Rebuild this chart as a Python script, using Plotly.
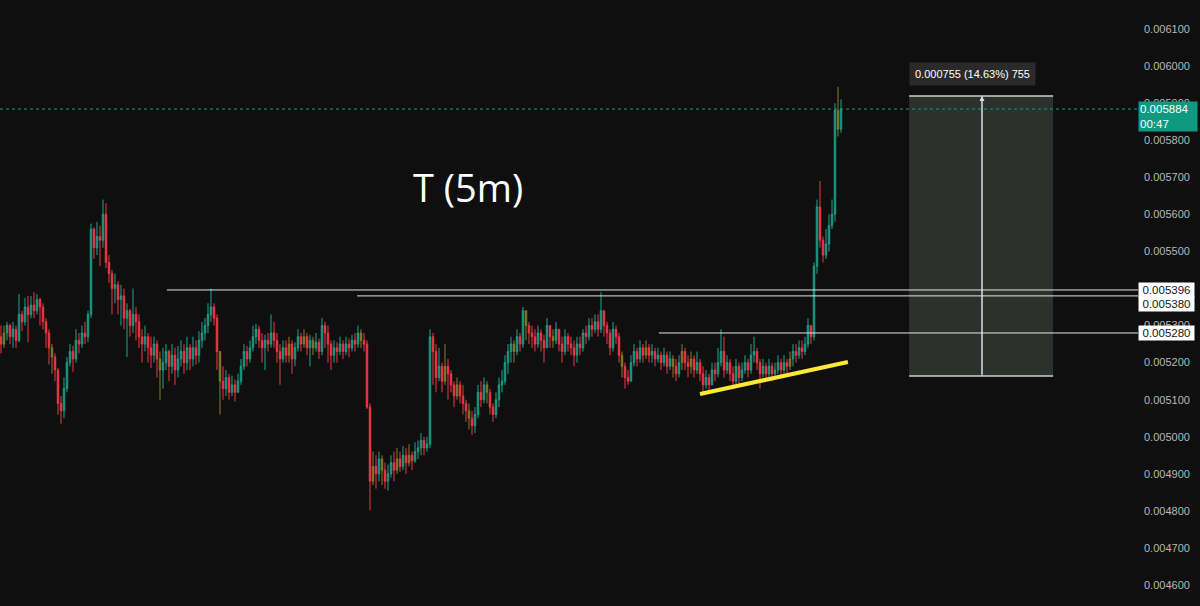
import plotly.graph_objects as go

# ---- data (prices in units of 1e-6) ----
first_open = 5270
close_u = [
 5250,5280,5300,5270,5290,5260,5330,5310,5350,5330,
 5355,5340,5370,5350,5310,5280,5240,5215,5180,5090,
 5070,5130,5200,5230,5210,5260,5250,5280,5270,5330,
 5560,5510,5540,5530,5600,5470,5440,5400,5410,5370,
 5380,5320,5340,5300,5330,5310,5270,5250,5270,5240,
 5220,5250,5210,5180,5200,5230,5190,5220,5180,5210,
 5230,5200,5240,5210,5240,5220,5260,5280,5300,5330,
 5350,5320,5230,5150,5130,5160,5120,5140,5120,5150,
 5190,5230,5210,5240,5270,5290,5260,5240,5260,5250,
 5280,5260,5230,5210,5240,5220,5250,5210,5240,5270,
 5250,5270,5240,5260,5240,5255,5230,5300,5280,5250,
 5220,5240,5230,5250,5230,5250,5240,5260,5250,5280,
 5260,5250,5080,4880,4920,4900,4940,4910,4880,4900,
 4930,4910,4940,4920,4950,4930,4950,4935,4960,4970,
 4990,4970,4980,5270,5230,5160,5190,5150,5190,5170,
 5140,5110,5140,5110,5090,5070,5050,5030,5060,5120,
 5100,5140,5120,5080,5060,5100,5140,5150,5200,5230,
 5250,5230,5270,5250,5340,5300,5280,5270,5250,5280,
 5260,5240,5300,5270,5260,5290,5250,5230,5270,5250,
 5240,5220,5250,5240,5280,5270,5300,5290,5310,5290,
 5340,5300,5280,5240,5290,5270,5220,5190,5160,5150,
 5200,5230,5210,5240,5220,5240,5220,5230,5210,5220,
 5200,5220,5190,5210,5190,5170,5200,5230,5200,5190,
 5210,5180,5200,5170,5140,5160,5140,5180,5170,5200,
 5230,5180,5200,5170,5150,5190,5160,5180,5200,5180,
 5220,5230,5200,5170,5190,5170,5190,5170,5180,5200,
 5180,5200,5190,5210,5230,5220,5240,5230,5250,5300,
 5270,5460,5620,5530,5490,5520,5570,5600,5880,5830,5884]
high_u = [
 5300,5300,5310,5305,5310,5300,5385,5340,5375,5380,
 5380,5390,5385,5375,5360,5320,5290,5250,5225,5185,
 5110,5160,5215,5250,5245,5290,5280,5300,5310,5340,
 5575,5565,5580,5570,5640,5630,5490,5450,5440,5420,
 5410,5400,5360,5345,5400,5350,5330,5290,5300,5280,
 5270,5270,5260,5230,5240,5250,5235,5250,5240,5245,
 5260,5250,5270,5250,5270,5260,5285,5310,5320,5360,
 5400,5360,5330,5230,5190,5180,5170,5165,5155,5170,
 5210,5250,5245,5260,5300,5305,5300,5280,5275,5280,
 5330,5310,5280,5250,5260,5260,5270,5260,5255,5290,
 5280,5290,5280,5275,5270,5280,5265,5320,5310,5300,
 5260,5260,5255,5270,5260,5270,5265,5275,5280,5300,
 5290,5280,5260,5090,4960,4950,4960,4950,4930,4925,
 4950,4960,4970,4960,4975,4970,4980,4960,4985,4990,
 5010,5000,5000,5290,5280,5250,5240,5200,5250,5210,
 5180,5150,5160,5150,5140,5100,5090,5070,5080,5140,
 5150,5160,5150,5130,5090,5120,5160,5180,5220,5250,
 5270,5260,5290,5280,5350,5340,5310,5300,5290,5300,
 5290,5275,5320,5300,5290,5310,5290,5270,5290,5280,
 5270,5260,5270,5270,5290,5300,5320,5320,5330,5330,
 5390,5340,5310,5290,5310,5300,5280,5230,5200,5180,
 5220,5250,5240,5260,5250,5260,5250,5250,5240,5240,
 5230,5240,5230,5230,5220,5210,5220,5250,5240,5220,
 5230,5220,5230,5210,5190,5180,5170,5200,5200,5240,
 5290,5270,5220,5210,5190,5210,5200,5200,5220,5210,
 5250,5270,5240,5210,5210,5200,5210,5200,5200,5220,
 5210,5220,5210,5230,5250,5250,5260,5260,5270,5320,
 5300,5470,5640,5690,5540,5560,5600,5640,5900,5944,5910]
low_u = [
 5225,5240,5260,5250,5240,5240,5255,5285,5300,5255,
 5320,5320,5330,5300,5290,5240,5195,5170,5150,5060,
 5035,5050,5120,5190,5175,5200,5225,5240,5250,5255,
 5320,5480,5490,5460,5510,5455,5415,5330,5360,5330,
 5300,5290,5215,5270,5280,5260,5240,5200,5230,5200,
 5185,5200,5160,5100,5130,5180,5150,5170,5140,5160,
 5190,5170,5180,5180,5190,5195,5200,5240,5260,5280,
 5310,5300,5180,5060,5100,5110,5100,5110,5095,5120,
 5140,5180,5190,5200,5230,5250,5240,5200,5180,5230,
 5240,5240,5200,5140,5200,5200,5200,5170,5190,5230,
 5230,5240,5220,5190,5220,5230,5210,5220,5240,5200,
 5180,5200,5200,5220,5210,5220,5215,5230,5230,5240,
 5240,5230,5075,4802,4870,4860,4880,4870,4860,4855,
 4890,4880,4900,4905,4910,4900,4920,4910,4930,4940,
 4950,4950,4960,4970,5140,5120,5150,5120,5140,5100,
 5120,5080,5100,5090,5060,5040,5020,5005,5010,5050,
 5080,5090,5090,5060,5040,5050,5080,5120,5140,5170,
 5200,5200,5220,5230,5240,5260,5250,5240,5230,5240,
 5230,5200,5240,5240,5240,5250,5230,5200,5220,5230,
 5220,5190,5200,5220,5230,5250,5260,5270,5280,5270,
 5280,5270,5250,5220,5230,5250,5200,5160,5130,5140,
 5150,5190,5190,5200,5200,5210,5200,5200,5190,5200,
 5180,5190,5170,5180,5160,5150,5160,5180,5180,5160,
 5170,5160,5170,5150,5115,5130,5120,5140,5150,5160,
 5190,5160,5170,5150,5130,5140,5140,5150,5170,5160,
 5170,5200,5180,5130,5160,5150,5160,5150,5160,5170,
 5160,5170,5170,5180,5190,5200,5210,5210,5220,5240,
 5250,5260,5440,5510,5470,5480,5500,5560,5580,5810,5820]
olive_idx = [1,17,53,73,96,101,104,120,124,127,132,136,148,152,156,162,
             171,175,184,207,215,224,227,230,263,279]

unit = 1e-6
level_prices = [0.005396, 0.005380, 0.005280]
level_start = [55.3, 118.7, 219.3]
level_label_shift = [0, -8, 0]
last_price = 0.005884
last_label = "0.005884<br>00:47"
ruler_low, ruler_high = 0.005164, 0.005919
ruler_x = (302.7, 350.7, 327.0)
ruler_text = "0.000755 (14.63%) 755"
trend = ((233.0, 0.0051154), (282.3, 0.0052017))
title_text = "T (5m)"

# ---- build ----
n = len(close_u)
xs = list(range(n))
opens = [first_open] + close_u[:-1]
O = [v * unit for v in opens]
C = [v * unit for v in close_u]
H = [v * unit for v in high_u]
L = [v * unit for v in low_u]
olive = set(olive_idx)

def subset(cond):
    return ([O[i] if cond(i) else None for i in xs],
            [H[i] if cond(i) else None for i in xs],
            [L[i] if cond(i) else None for i in xs],
            [C[i] if cond(i) else None for i in xs])

up = subset(lambda i: i not in olive and C[i] >= O[i])
dn = subset(lambda i: i not in olive and C[i] < O[i])
ol = subset(lambda i: i in olive)

GREEN_W, GREEN_B = "#1fa58e", "#0c5f54"
RED = "#f23645"
OLV_W, OLV_B = "#8a7d2c", "#6b6222"

fig = go.Figure()
for (o, h, l, c), lc, fc in [(up, GREEN_W, GREEN_B), (dn, RED, RED), (ol, OLV_W, OLV_B)]:
    fig.add_trace(go.Candlestick(
        x=xs, open=o, high=h, low=l, close=c,
        increasing=dict(line=dict(color=lc, width=1), fillcolor=fc),
        decreasing=dict(line=dict(color=lc, width=1), fillcolor=fc),
        showlegend=False, hoverinfo="skip"))

XMAX = 379.0
shapes = []
# ruler box
shapes.append(dict(type="rect", xref="x", yref="y", x0=ruler_x[0], x1=ruler_x[1],
                   y0=ruler_low, y1=ruler_high, fillcolor="#2c312d", line=dict(width=0), layer="below"))
for yv in (ruler_low, ruler_high):
    shapes.append(dict(type="line", xref="x", yref="y", x0=ruler_x[0], x1=ruler_x[1],
                       y0=yv, y1=yv, line=dict(color="#cfcfcf", width=1.5)))
shapes.append(dict(type="line", xref="x", yref="y", x0=ruler_x[2], x1=ruler_x[2],
                   y0=ruler_low, y1=ruler_high, line=dict(color="#d8d8d8", width=1)))
# level lines
for p, s in zip(level_prices, level_start):
    shapes.append(dict(type="line", xref="x", yref="y", x0=s, x1=XMAX, y0=p, y1=p,
                       line=dict(color="#e6e6e6", width=1)))
# last price dotted
shapes.append(dict(type="line", xref="paper", yref="y", x0=0, x1=1, y0=last_price, y1=last_price,
                   line=dict(color="#1a9b86", width=1, dash="dot")))
# yellow trend line
shapes.append(dict(type="line", xref="x", yref="y", x0=trend[0][0], y0=trend[0][1],
                   x1=trend[1][0], y1=trend[1][1], line=dict(color="#ffe834", width=4)))

annotations = []
annotations.append(dict(xref="x", yref="y", x=155.7, y=0.005674, text=title_text, showarrow=False,
                        font=dict(family="Open Sans", size=38, color="#ffffff")))
annotations.append(dict(xref="x", yref="y", x=ruler_x[2], y=ruler_high, ax=ruler_x[2], ay=ruler_low,
                        axref="x", ayref="y", text="", showarrow=True, arrowhead=2, arrowsize=1,
                        arrowwidth=1, arrowcolor="#e0e0e0"))
annotations.append(dict(xref="x", yref="y", x=ruler_x[2] - 3.2, y=ruler_high, yshift=22, text=ruler_text,
                        showarrow=False, bgcolor="#2a2a2a", borderpad=5,
                        font=dict(family="Liberation Sans", size=11, color="#ffffff")))
for p, sh in zip(level_prices, level_label_shift):
    annotations.append(dict(xref="paper", yref="y", x=1, y=p, xanchor="left", yshift=sh,
                            text="%.6f" % p, showarrow=False, bgcolor="#ffffff", width=55, height=14,
                            borderpad=0, font=dict(family="Liberation Sans", size=11.5, color="#131722")))
annotations.append(dict(xref="paper", yref="y", x=1, y=last_price, xanchor="left", yshift=-7,
                        text=last_label, showarrow=False, bgcolor="#0e9981", width=56, align="left",
                        borderpad=1, font=dict(family="Liberation Sans", size=11.5, color="#ffffff")))

fig.update_layout(
    width=1200, height=606,
    margin=dict(l=0, r=62, t=0, b=0),
    paper_bgcolor="#0f0f0f", plot_bgcolor="#0f0f0f",
    xaxis=dict(visible=False, range=[-0.33, XMAX], rangeslider=dict(visible=False)),
    yaxis=dict(side="right", range=[0.0045435, 0.0061782], dtick=0.0001, tick0=0,
               tickformat=".6f", showgrid=False, zeroline=False, ticks="",
               ticklabelstandoff=5,
               tickfont=dict(family="Liberation Sans", size=11, color="#b8b8b8")),
    shapes=shapes, annotations=annotations, showlegend=False,
)
fig.write_html("out.html")
